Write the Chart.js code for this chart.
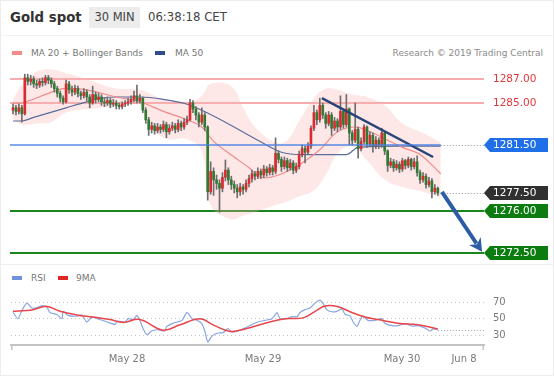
<!DOCTYPE html>
<html>
<head>
<meta charset="utf-8">
<script src="https://cdn.jsdelivr.net/npm/chart.js@4.4.1/dist/chart.umd.min.js"></script>
<style>
  html, body { margin:0; padding:0; background:#fff; }
  body { width:554px; height:376px; position:relative; overflow:hidden; font-family:"DejaVu Sans", Verdana, sans-serif; }
  .abs { position:absolute; white-space:nowrap; }
  #frame { left:0; top:0; width:552px; height:374px; border:1px solid #ececec; }
  #title { left:10px; top:7px; line-height:21px; font-size:13.3px; font-weight:bold; color:#333; }
  #tf { left:89px; top:7px; width:51px; height:21px; line-height:21px; text-align:center; background:#ececec; font-size:11.5px; color:#444; }
  #clock { left:148px; top:7px; line-height:21px; font-size:11.7px; color:#444; }
  .sw { position:absolute; height:4px; width:10px; }
  .lg { font-size:9px; color:#777; line-height:12px; }
  canvas { position:absolute; left:0; }
</style>
</head>
<body>
<div class="abs" id="frame"></div>
<div class="abs" style="left:1px;top:35px;width:552px;height:1px;background:#f1f1f1"></div>
<div class="abs" style="left:1px;top:264px;width:552px;height:1px;background:#efefef"></div>
<div class="abs" id="title">Gold spot</div>
<div class="abs" id="tf">30 MIN</div>
<div class="abs" id="clock">06:38:18 CET</div>

<div class="sw" style="left:12px;top:51px;background:#f28a8a"></div>
<div class="abs lg" style="left:31px;top:47px">MA 20 + Bollinger Bands</div>
<div class="sw" style="left:155px;top:51px;background:#2e4d8a"></div>
<div class="abs lg" style="left:175px;top:47px">MA 50</div>
<div class="abs lg" style="right:11px;top:47px;color:#8a8a8a">Research © 2019 Trading Central</div>

<div class="sw" style="left:12px;top:276px;background:#6f92dc"></div>
<div class="abs lg" style="left:31px;top:272px">RSI</div>
<div class="sw" style="left:58px;top:276px;background:#e02626"></div>
<div class="abs lg" style="left:76px;top:272px">9MA</div>

<canvas id="price" width="554" height="205" style="top:60px"></canvas>
<canvas id="rsi" width="554" height="111" style="top:265px"></canvas>

<script>
// ---------- DATA ----------
const opens = [
1284.4,1284.6,1284.3,1284.6,1284.1,1287.1,1286.8,1287.0,1286.6,1286.5,
1286.8,1286.7,1287.1,1286.9,1286.6,1286.2,1285.8,1285.4,1285.1,1286.6,
1286.1,1285.9,1286.2,1285.8,1285.6,1285.9,1285.5,1285.0,1285.7,1285.3,
1285.5,1285.1,1285.0,1285.2,1284.9,1285.0,1284.8,1284.7,1284.9,1285.0,
1285.1,1285.3,1285.6,1285.2,1285.4,1284.4,1283.6,1282.8,1283.1,1282.7,
1283.0,1282.8,1283.2,1282.6,1282.9,1283.1,1282.8,1283.3,1283.0,1283.4,
1283.6,1285.0,1284.5,1284.0,1283.4,1284.0,1283.0,1277.6,1279.3,1278.6,
1278.3,1277.9,1278.8,1279.4,1278.6,1278.2,1277.9,1277.6,1278.0,1277.8,
1278.3,1278.7,1279.1,1278.9,1279.3,1279.0,1279.5,1279.2,1279.6,1279.3,
1280.8,1280.3,1279.7,1280.2,1279.6,1280.0,1279.4,1279.7,1280.7,1281.2,
1280.9,1281.4,1282.9,1284.2,1283.6,1284.8,1284.0,1283.3,1284.0,1282.9,
1283.5,1283.0,1284.3,1283.2,1284.5,1282.5,1281.9,1282.8,1281.2,1281.8,
1283.0,1281.6,1282.3,1281.4,1281.9,1281.5,1282.5,1281.0,1279.8,1280.1,
1279.6,1279.9,1279.5,1280.2,1279.8,1280.3,1279.7,1280.1,1279.2,1278.6,
1278.9,1278.2,1278.5,1277.6,1277.9];
const closes = [
1284.6,1284.3,1284.6,1284.1,1287.1,1286.8,1287.0,1286.6,1286.5,1286.8,
1286.7,1287.1,1286.9,1286.6,1286.2,1285.8,1285.4,1285.1,1286.6,1286.1,
1285.9,1286.2,1285.8,1285.6,1285.9,1285.5,1285.0,1285.7,1285.3,1285.5,
1285.1,1285.0,1285.2,1284.9,1285.0,1284.8,1284.7,1284.9,1285.0,1285.1,
1285.3,1285.6,1285.2,1285.4,1284.4,1283.6,1282.8,1283.1,1282.7,1283.0,
1282.8,1283.2,1282.6,1282.9,1283.1,1282.8,1283.3,1283.0,1283.4,1283.6,
1285.0,1284.5,1284.0,1283.4,1284.0,1283.0,1277.6,1279.3,1278.6,1278.3,
1277.9,1278.8,1279.4,1278.6,1278.2,1277.9,1277.6,1278.0,1277.8,1278.3,
1278.7,1279.1,1278.9,1279.3,1279.0,1279.5,1279.2,1279.6,1279.3,1280.8,
1280.3,1279.7,1280.2,1279.6,1280.0,1279.4,1279.7,1280.7,1281.2,1280.9,
1281.4,1282.9,1284.2,1283.6,1284.8,1284.0,1283.3,1284.0,1282.9,1283.5,
1283.0,1284.3,1283.2,1284.5,1282.5,1281.9,1282.8,1281.2,1281.8,1283.0,
1281.6,1282.3,1281.4,1281.9,1281.5,1282.5,1281.0,1279.8,1280.1,1279.6,
1279.9,1279.5,1280.2,1279.8,1280.3,1279.7,1280.1,1279.2,1278.6,1278.9,
1278.2,1278.5,1277.6,1277.9,1277.5];
const highs = [
1284.9,1284.8,1284.9,1284.8,1287.4,1287.4,1287.3,1287.2,1286.9,1287.0,
1287.1,1287.3,1287.3,1287.1,1286.8,1286.4,1286.0,1285.6,1286.9,1286.8,
1286.4,1286.5,1286.4,1286.0,1286.2,1286.1,1285.7,1286.4,1285.9,1285.8,
1285.7,1285.4,1285.5,1285.4,1285.3,1285.2,1285.0,1285.1,1285.2,1285.4,
1285.6,1286.0,1286.5,1285.7,1285.5,1284.6,1283.8,1283.4,1283.3,1283.3,
1283.2,1283.5,1283.4,1283.2,1283.4,1283.3,1283.6,1283.5,1283.7,1283.9,
1285.3,1285.2,1284.7,1284.2,1284.6,1284.2,1283.1,1280.1,1279.6,1279.0,
1278.6,1279.2,1280.25,1279.6,1278.9,1278.5,1278.2,1278.3,1278.2,1278.6,
1279.0,1279.4,1279.3,1279.6,1279.5,1279.8,1279.7,1279.9,1279.8,1282.1,
1281.0,1280.5,1280.5,1280.4,1280.3,1280.2,1280.0,1281.0,1281.5,1281.4,
1281.7,1283.1,1284.8,1284.4,1285.4,1285.0,1284.2,1284.3,1284.2,1283.8,
1283.7,1285.6,1284.5,1285.7,1284.6,1282.7,1285.0,1283.0,1282.1,1283.2,
1283.1,1282.6,1282.5,1282.2,1282.1,1282.9,1282.6,1281.1,1280.4,1280.3,
1280.2,1280.1,1280.4,1280.3,1280.5,1280.4,1280.4,1280.6,1279.4,1279.2,
1279.1,1278.8,1278.7,1278.2,1278.0];
const lows = [
1284.1,1284.0,1284.1,1283.4,1284.0,1286.5,1286.5,1286.3,1286.2,1286.3,
1286.4,1286.5,1286.6,1286.3,1285.9,1285.5,1285.1,1284.9,1285.0,1285.8,
1285.6,1285.7,1285.5,1285.3,1285.4,1285.2,1284.6,1284.9,1285.0,1285.1,
1284.8,1284.7,1284.8,1284.6,1284.7,1284.5,1284.5,1284.5,1284.7,1284.8,
1284.9,1285.1,1285.0,1285.0,1284.2,1283.3,1282.3,1282.5,1282.4,1282.5,
1282.5,1282.6,1282.1,1282.4,1282.7,1282.5,1282.6,1282.7,1282.8,1283.2,
1283.5,1284.2,1283.6,1283.0,1283.2,1282.7,1276.9,1277.4,1277.3,1277.8,
1275.9,1277.6,1278.5,1278.2,1277.8,1277.5,1277.1,1277.3,1277.4,1277.6,
1278.0,1278.4,1278.6,1278.7,1278.7,1278.8,1278.9,1279.0,1279.0,1279.1,
1280.0,1279.3,1279.5,1279.3,1279.4,1279.1,1279.2,1279.5,1280.5,1280.0,
1280.7,1281.2,1282.7,1283.2,1283.4,1283.7,1282.9,1283.1,1282.3,1282.7,
1282.6,1282.8,1282.9,1283.0,1281.5,1281.5,1281.7,1280.4,1281.0,1281.6,
1281.3,1281.4,1280.9,1281.2,1281.2,1281.3,1280.7,1279.3,1279.6,1279.3,
1279.4,1279.2,1279.3,1279.5,1279.6,1279.4,1279.5,1278.9,1278.3,1278.4,
1277.9,1278.0,1277.1,1277.4,1277.3];

// Bollinger bands (at candle indices)
const bandIdx   = [0,3,8,13,18,26,35,43,47,52,59,64,67,74,78,82,89,93,97,102,106,110,115,120,126,132,139,145];
const bandUpper = [1285.3,1286.5,1287.6,1287.8,1287.5,1286.9,1286.2,1286.1,1285.7,1285.2,1285.0,1285.6,1286.6,1286.4,1284.6,1283.0,1281.7,1281.9,1283.5,1285.4,1286.2,1286.1,1285.7,1285.5,1284.8,1283.3,1282.5,1281.7];
const bandLower = [1283.7,1283.2,1283.3,1283.4,1284.2,1284.5,1284.7,1284.9,1283.0,1282.0,1282.0,1281.0,1276.5,1275.3,1275.6,1275.9,1276.5,1276.8,1277.2,1277.7,1279.0,1280.8,1281.4,1280.2,1278.6,1278.0,1277.6,1277.1];
// MA 20
const ma20Idx = [0,3,12,17,25,35,43,51,59,64,68,75,80,84,90,98,104,110,116,121,127,132,138,145];
const ma20    = [1285.0,1285.0,1285.8,1286.2,1286.1,1285.5,1285.1,1284.3,1283.6,1283.0,1281.8,1280.5,1279.6,1278.8,1279.0,1280.0,1281.1,1282.6,1283.0,1282.6,1281.9,1281.3,1280.7,1279.1];
// MA 50
const ma50Idx = [0,3,7,18,25,30,35,43,51,59,64,72,83,91,98,113,117,131,145];
const ma50    = [1283.5,1283.5,1283.8,1284.6,1285.1,1285.4,1285.5,1285.5,1285.3,1284.9,1284.4,1283.4,1281.9,1280.9,1280.7,1280.7,1281.3,1281.4,1281.4];
// Trend line and projection arrow
const trendIdx = [104.7,142.4];
const trendPrice = [1285.4,1280.5];
const arrowIdx = [145.4,159];
const arrowPrice = [1277.6,1272.6];
// Key levels
const resistLevels = [1287, 1285];
const pivotLevels = [1281.5];
const lastLevels = [1277.5];
const supportLevels = [1276, 1272.5];
// RSI
const rsiIdx = [0,1.7,3,4.7,6.4,8.1,9.8,11.5,12.5,14.9,16.6,17,18.6,21.7,23.4,25,26.8,29.5,31.9,34.6,35.3,38,39,40.7,42,43,44,45.4,47,49,51.5,52,54,55.6,57.3,59,60.7,62.4,64,65,66,67.5,69.5,71.2,72.9,74.2,76.3,78.6,81,83,85.4,87.8,89.5,90.5,92.9,94.6,96.3,97.3,99,100.7,102.4,104,105,106.4,108,109.8,111.5,112.5,114.2,115.3,116.6,117.6,118.6,120.3,122.7,125,126,128.5,130.5,132.9,135.3,137.3,139.7,141.4,142.4,144];
const rsiVal = [57.6,50,60,69,63,63.5,66,64,57.6,55,50,59,54,53,54.5,46,52,49,46,43,47,46,50,49,54,48,38.7,30.4,35,36.5,35,40,44,46,48,57.6,50,48,44,35,21.7,29,32.5,33,38,33.5,35,38.5,43,46,48,50,57.5,50,50,52.5,52.5,57.5,61,63,69,72.6,69,61,58.5,59,62,55.5,53.5,46,40.5,48,53.5,48,48,50,44.5,41.5,41.5,44,41,41.5,38.5,35,37.5,36.5];
const ma9Idx = [0,4.7,6.8,11.5,15.9,21.7,27.1,32.9,37.3,43,50.8,56.6,63.4,67.8,73.6,78.6,85.4,92.2,98.3,102.4,105.8,110.2,114.9,119.3,123.7,130.5,137.3,144];
const ma9 = [59,60,61,65,59,54.5,52,49,45.5,49,36,42.5,50,42.5,34.5,37.5,44.5,50,51,59,65.5,64.5,57.5,52,49,44.5,42.5,37.5];
const rsiTicks = [30, 50, 70];
// Time axis
const xTickPos = [38.64, 84.75, 131.86, 152.88];
const xTickLabels = ['May 28', 'May 29', 'May 30', 'Jun 8'];

// ---------- CHART ----------
Chart.defaults.font.family = '"DejaVu Sans", Verdana, sans-serif';
const X_MIN = -0.68, X_MAX = 159.66;
const UP = '#d92b31', DOWN = '#2e7b31', WICK = '#6e6e6e';
const idx = closes.map((_, i) => i);
const pts = (xs, ys) => xs.map((x, k) => ({x, y: ys[k]}));

function drawHLine(ctx, py, color, w, x0, x1, dash) {
  ctx.save();
  ctx.setLineDash(dash || []);
  ctx.strokeStyle = color;
  ctx.lineWidth = w;
  ctx.beginPath();
  ctx.moveTo(x0, py);
  ctx.lineTo(x1, py);
  ctx.stroke();
  ctx.restore();
}

const levelPlugin = {
  id: 'levels',
  beforeDatasetsDraw(chart) {
    const {ctx, chartArea: a, scales: {y}} = chart;
    const left = a.left - 1;
    resistLevels.forEach(p => drawHLine(ctx, Math.round(y.getPixelForValue(p)), 'rgba(240,110,110,0.75)', 1.6, left, a.right));
    supportLevels.forEach(p => drawHLine(ctx, Math.round(y.getPixelForValue(p)), 'rgb(24,135,30)', 2, left, a.right));
  },
  afterDatasetsDraw(chart) {
    const {ctx, chartArea: a, scales: {x, y}} = chart;
    const lastX = x.getPixelForValue(closes.length);
    const left = a.left - 1;
    pivotLevels.forEach(p => {
      const py = Math.round(y.getPixelForValue(p));
      drawHLine(ctx, py, 'rgba(70,128,230,0.9)', 1.6, left, lastX);
      drawHLine(ctx, py + 0.5, 'rgb(150,150,150)', 1, lastX, a.right, [1, 2]);
    });
    lastLevels.forEach(p => drawHLine(ctx, Math.round(y.getPixelForValue(p)) + 0.5, 'rgb(150,150,150)', 1, lastX, a.right, [1, 2]));

    const x0 = x.getPixelForValue(arrowIdx[0]), y0 = y.getPixelForValue(arrowPrice[0]);
    const x1 = x.getPixelForValue(arrowIdx[1]), y1 = y.getPixelForValue(arrowPrice[1]);
    const ang = Math.atan2(y1 - y0, x1 - x0);
    const hl = 13, hw = 7;
    const bx = x1 - hl * Math.cos(ang), by = y1 - hl * Math.sin(ang);
    ctx.save();
    ctx.strokeStyle = '#2d5ca6'; ctx.fillStyle = '#2d5ca6'; ctx.lineWidth = 4;
    ctx.beginPath(); ctx.moveTo(x0, y0); ctx.lineTo(bx + 3 * Math.cos(ang), by + 3 * Math.sin(ang)); ctx.stroke();
    ctx.beginPath();
    ctx.moveTo(x1, y1);
    ctx.lineTo(bx + hw * Math.sin(ang), by - hw * Math.cos(ang));
    ctx.lineTo(bx + 4 * Math.cos(ang), by + 4 * Math.sin(ang));
    ctx.lineTo(bx - hw * Math.sin(ang), by + hw * Math.cos(ang));
    ctx.closePath(); ctx.fill();
    ctx.restore();
  },
  afterDraw(chart) {
    const {ctx, chartArea: a, scales: {y}} = chart;
    ctx.save();
    ctx.font = '10.5px "DejaVu Sans"';
    ctx.textBaseline = 'middle';
    const tx = a.right + 9;
    const tag = (p, color) => {
      const py = Math.round(y.getPixelForValue(p));
      const xa = a.right, xb = a.right + 6, xc = a.right + 64, h = 14;
      ctx.fillStyle = color;
      ctx.beginPath();
      ctx.moveTo(xa, py); ctx.lineTo(xb, py - h / 2); ctx.lineTo(xc, py - h / 2);
      ctx.lineTo(xc, py + h / 2); ctx.lineTo(xb, py + h / 2); ctx.closePath(); ctx.fill();
      ctx.fillStyle = '#fff';
      ctx.fillText(p.toFixed(2), tx, py + 0.5);
    };
    resistLevels.forEach(p => { ctx.fillStyle = '#e6363c'; ctx.fillText(p.toFixed(2), tx, y.getPixelForValue(p) + 0.5); });
    pivotLevels.forEach(p => tag(p, '#1f6fe8'));
    lastLevels.forEach(p => tag(p, '#303030'));
    supportLevels.forEach(p => tag(p, '#0c7c10'));
    ctx.restore();
  }
};

new Chart(document.getElementById('price'), {
  type: 'bar',
  data: { datasets: [
    { type: 'line', data: pts(bandIdx, bandUpper), borderWidth: 0, borderColor: 'rgba(0,0,0,0)', pointRadius: 0, tension: 0.4, fill: false, order: 10 },
    { type: 'line', data: pts(bandIdx, bandLower), borderWidth: 0, borderColor: 'rgba(0,0,0,0)', pointRadius: 0, tension: 0.4, fill: '-1', backgroundColor: 'rgba(248,175,175,0.30)', order: 10 },
    { type: 'line', data: pts(ma20Idx, ma20), borderColor: '#f08c8c', borderWidth: 1.2, pointRadius: 0, tension: 0.35, order: 6 },
    { type: 'line', data: pts(ma50Idx, ma50), borderColor: '#5a6d9c', borderWidth: 1.2, pointRadius: 0, tension: 0.35, cubicInterpolationMode: 'monotone', order: 6 },
    { data: idx.map(i => ({x: i, y: [lows[i], highs[i]]})), backgroundColor: WICK, barThickness: 1, grouped: false, order: 4 },
    { data: idx.map(i => ({x: i, y: [opens[i], closes[i]]})), backgroundColor: c => closes[c.dataIndex] >= opens[c.dataIndex] ? UP : DOWN,
      barThickness: 2, grouped: false, minBarLength: 1, order: 3 },
    { type: 'line', data: pts(trendIdx, trendPrice), borderColor: '#2b4578', borderWidth: 2.5, pointRadius: 0, order: 1 }
  ]},
  options: {
    responsive: false, animation: false, devicePixelRatio: 1,
    layout: { padding: { left: 11, right: 70, top: 0, bottom: 0 } },
    plugins: { legend: { display: false }, tooltip: { enabled: false } },
    scales: {
      x: { type: 'linear', min: X_MIN, max: X_MAX, display: false, offset: false },
      y: { type: 'linear', min: 1271.5, max: 1288.5833, display: false }
    }
  },
  plugins: [levelPlugin]
});

const rsiPlugin = {
  id: 'rsiExtras',
  afterDatasetsDraw(chart) {
    const {ctx, chartArea: a, scales: {x, y}} = chart;
    const py = Math.round(y.getPixelForValue(rsiVal[rsiVal.length - 1])) + 0.5;
    drawHLine(ctx, py, 'rgb(160,160,160)', 1, x.getPixelForValue(rsiIdx[rsiIdx.length - 1]), a.right, [1, 2]);
    ctx.save();
    ctx.strokeStyle = '#c4c4c4'; ctx.lineWidth = 1.5;
    [a.left + 0.75, a.right - 0.75].forEach(px => { ctx.beginPath(); ctx.moveTo(px, a.bottom); ctx.lineTo(px, a.bottom + 5); ctx.stroke(); });
    ctx.restore();
  }
};

new Chart(document.getElementById('rsi'), {
  type: 'line',
  data: { datasets: [
    { data: pts(ma9Idx, ma9), borderColor: '#e8464b', borderWidth: 1.5, pointRadius: 0, tension: 0.4, order: 1 },
    { data: pts(rsiIdx, rsiVal), borderColor: '#8aa6e2', borderWidth: 1.2, pointRadius: 0, tension: 0.2, order: 2 }
  ]},
  options: {
    responsive: false, animation: false, devicePixelRatio: 1,
    layout: { padding: { left: 11, right: 0, top: 10, bottom: 0 } },
    plugins: { legend: { display: false }, tooltip: { enabled: false } },
    scales: {
      x: { type: 'linear', min: X_MIN, max: X_MAX, offset: false,
        grid: { display: false, drawTicks: false },
        border: { display: true, color: '#c4c4c4', width: 2 },
        afterBuildTicks: s => { s.ticks = xTickPos.map(v => ({ value: v })); },
        afterFit: s => { s.height = 31; },
        ticks: { autoSkip: false, maxRotation: 0, padding: 8, color: '#7a7a7a', font: { size: 10 },
          callback: (v, i) => xTickLabels[i] }
      },
      y: { type: 'linear', position: 'right', min: 17.9, max: 97.2,
        grid: { color: '#c6c6c6', lineWidth: 1, drawTicks: false },
        border: { display: false, dash: [1, 3] },
        afterBuildTicks: s => { s.ticks = rsiTicks.map(v => ({ value: v })); },
        afterFit: s => { s.width = 70; },
        ticks: { padding: 9, color: '#7a7a7a', font: { size: 10 }, callback: v => String(v) }
      }
    }
  },
  plugins: [rsiPlugin]
});
</script>
</body>
</html>
